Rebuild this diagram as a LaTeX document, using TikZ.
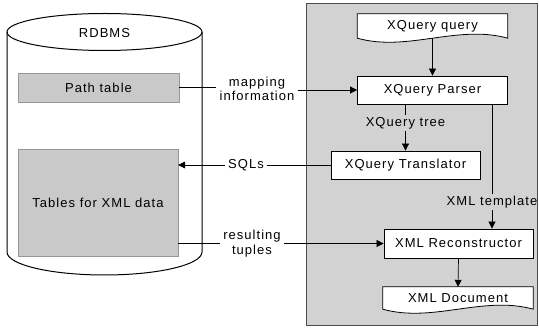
\documentclass[tikz,border=0pt]{standalone}
\usepackage{fontspec}
\setmainfont[LetterSpace=8]{Liberation Sans}
\usetikzlibrary{arrows.meta,calc}
\pgfdeclarelayer{background}
\pgfsetlayers{background,main}
\definecolor{panelgray}{HTML}{D2D2D2}
\definecolor{tabgray}{HTML}{C9C9C9}
\begin{document}
\begin{tikzpicture}[x=1pt,y=-1pt,
  every node/.style={font=\fontsize{13}{14.5}\selectfont},
  procbox/.style={draw=black,line width=0.8pt,fill=white,inner sep=0pt},
  docnode/.style={inner sep=0pt},
  docline/.style={draw=black,line width=0.8pt,fill=white},
  dbbox/.style={fill=tabgray,draw=tabgray!75!black,line width=0.4pt,inner sep=0pt},
  cyl/.style={draw=black,line width=1pt},
  lbl/.style={align=center,inner sep=3pt},
  conn/.style={line width=0.7pt},
  arr/.style={conn,-{Triangle[length=7pt,width=7pt]}}]
\useasboundingbox (0,0) rectangle (539,328);

% RDBMS cylinder
\draw[cyl] (7,32) -- (7,252)
  arc[start angle=180,end angle=360,x radius=97.5pt,y radius=23pt] -- (202,32);
\draw[cyl] (104.5,32) ellipse[x radius=97.5pt,y radius=18.5pt];
\node (rdbms) at (104.5,33) {RDBMS};
\node[dbbox,minimum width=161,minimum height=29] (path) at (98.5,87.5) {Path table};
\node[dbbox,minimum width=160,minimum height=107] (tables) at (98,202.5) {Tables for XML data};

% query processor panel
\begin{pgfonlayer}{background}
  \draw[fill=panelgray,draw=black!70,line width=0.6pt] (306,3) rectangle (537,325);
\end{pgfonlayer}

\node[docnode,minimum width=150,minimum height=24] (query) at (432.5,26) {XQuery query};
\node[procbox,minimum width=150,minimum height=28] (parser) at (432.5,90) {XQuery Parser};
\node[procbox,minimum width=149,minimum height=28] (trans) at (405.5,165) {XQuery Translator};
\node[procbox,minimum width=149,minimum height=29] (recon) at (458.5,243.5) {XML Reconstructor};
\node[docnode,minimum width=150,minimum height=22] (doc) at (458,298) {XML Document};

% document outlines with wavy lower edge
\begin{pgfonlayer}{background}
  \draw[docline] (query.south west) -- (query.north west) -- (query.north east)
    -- (query.south east)
    .. controls ($(query.south east)+(-50,-14)$) and ($(query.south west)+(50,14)$)
    .. (query.south west) -- cycle;
  \draw[docline] (doc.south west) -- (doc.north west) -- (doc.north east)
    -- (doc.south east)
    .. controls ($(doc.south east)+(-50,-14)$) and ($(doc.south west)+(50,14)$)
    .. (doc.south west) -- cycle;
\end{pgfonlayer}

% labels
\node[lbl] (map) at (257,89) {mapping\\information};
\node[lbl] (sql) at (246,165) {SQLs};
\node[lbl] (tuples) at (252,243.5) {resulting\\tuples};
\node[lbl,inner sep=2pt] (tree) at (405.5,123) {XQuery tree};
\node[lbl,inner sep=2pt] (tmpl) at (492,202) {XML template};

% connectors
\draw[conn] (path.east) -- (path.east -| map.west);
\draw[arr] (map.east |- parser.west) -- (parser.west);
\draw[conn] (trans.west) -- (sql.east);
\draw[arr] (sql.west) -- (sql.west -| tables.east);
\draw[conn] (tuples.west -| tables.east) -- (tuples.west);
\draw[arr] (tuples.east) -- (recon.west);
\draw[arr] (query.south) -- (parser.north);
\draw[conn] (tree.north |- parser.south) -- (tree.north);
\draw[arr] (tree.south) -- (trans.north);
\draw[conn] (tmpl.north |- parser.south) -- (tmpl.north);
\draw[arr] (tmpl.south) -- (tmpl.south |- recon.north);
\draw[arr] (recon.south) -- (doc.north);
\end{tikzpicture}
\end{document}
